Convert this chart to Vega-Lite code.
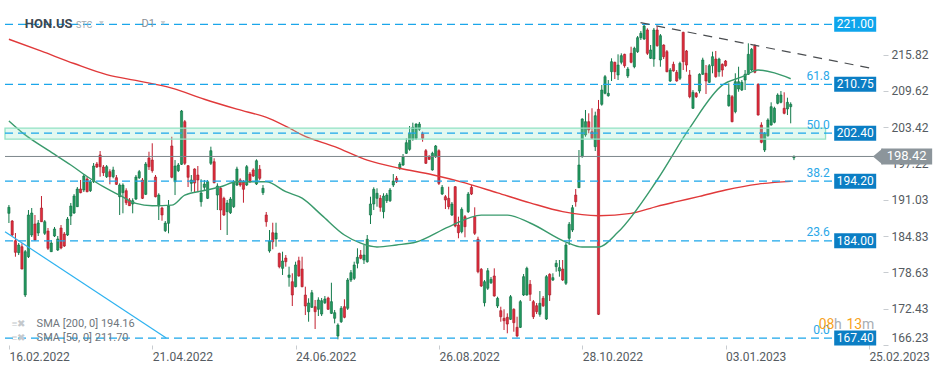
{
"$schema":"https://vega.github.io/schema/vega-lite/v6.json",
"width":883,"height":345,
"autosize":{"type":"none"},
"padding":{"left":0,"top":0,"right":66,"bottom":25},
"background":"#ffffff",
"config":{"view":{"stroke":null},"font":"Roboto","axis":{"labelFont":"Roboto","labelFontSize":12,"labelColor":"#555b61","tickColor":"#c8ccd0","domain":false,"grid":false,"title":null}},
"datasets":{
"candles":[
{"i":0,"o":188.71,"h":190.13,"l":187.05,"c":189.73},{"i":1,"o":187.39,"h":187.56,"l":184.83,"c":185.00},{"i":2,"o":184.03,"h":185.34,"l":181.29,"c":182.04},{"i":3,"o":181.98,"h":183.63,"l":181.58,"c":183.29},{"i":4,"o":183.00,"h":183.58,"l":179.14,"c":179.19},{"i":5,"o":174.75,"h":182.44,"l":174.41,"c":182.15},{"i":6,"o":181.29,"h":189.27,"l":181.07,"c":188.42},{"i":7,"o":185.00,"h":189.61,"l":184.66,"c":188.76},{"i":8,"o":186.88,"h":188.42,"l":184.03,"c":184.15},{"i":9,"o":185.34,"h":187.56,"l":184.83,"c":187.05},
{"i":10,"o":189.61,"h":191.66,"l":187.22,"c":187.27},{"i":11,"o":185.29,"h":187.56,"l":185.00,"c":187.27},{"i":12,"o":185.68,"h":186.20,"l":182.44,"c":182.73},{"i":13,"o":182.15,"h":184.15,"l":182.10,"c":183.63},{"i":14,"o":184.83,"h":186.37,"l":184.66,"c":186.03},{"i":15,"o":182.44,"h":184.83,"l":182.27,"c":184.32},{"i":16,"o":186.20,"h":186.71,"l":182.56,"c":182.78},{"i":17,"o":185.17,"h":185.51,"l":182.95,"c":183.12},{"i":18,"o":185.00,"h":188.08,"l":184.83,"c":187.73},{"i":19,"o":188.25,"h":190.47,"l":186.71,"c":189.95},
{"i":20,"o":188.76,"h":192.00,"l":188.59,"c":191.66},{"i":21,"o":189.84,"h":193.20,"l":189.78,"c":192.86},{"i":22,"o":192.86,"h":194.40,"l":192.13,"c":192.23},{"i":23,"o":192.69,"h":195.42,"l":192.35,"c":195.08},{"i":24,"o":194.57,"h":194.96,"l":192.30,"c":192.40},{"i":25,"o":192.57,"h":194.40,"l":192.35,"c":194.11},{"i":26,"o":194.11,"h":197.30,"l":193.88,"c":196.79},{"i":27,"o":197.13,"h":197.47,"l":196.45,"c":196.62},{"i":28,"o":198.67,"h":199.35,"l":194.96,"c":196.67},{"i":29,"o":196.62,"h":196.96,"l":195.08,"c":195.64},
{"i":30,"o":194.96,"h":196.96,"l":194.74,"c":196.67},{"i":31,"o":195.82,"h":196.23,"l":193.66,"c":194.96},{"i":32,"o":194.96,"h":196.67,"l":194.69,"c":196.11},{"i":33,"o":194.79,"h":195.25,"l":193.54,"c":193.66},{"i":34,"o":191.54,"h":193.83,"l":188.42,"c":193.54},{"i":35,"o":192.23,"h":193.83,"l":188.71,"c":193.54},{"i":36,"o":192.57,"h":192.98,"l":190.13,"c":190.52},{"i":37,"o":190.98,"h":191.32,"l":189.96,"c":190.01},{"i":38,"o":190.30,"h":191.27,"l":188.71,"c":190.86},{"i":39,"o":191.15,"h":195.25,"l":190.98,"c":194.91},
{"i":40,"o":194.79,"h":196.11,"l":194.57,"c":195.82},{"i":41,"o":194.40,"h":194.74,"l":191.15,"c":191.27},{"i":42,"o":191.95,"h":197.47,"l":191.83,"c":197.13},{"i":43,"o":198.16,"h":199.23,"l":196.11,"c":196.67},{"i":44,"o":197.81,"h":200.67,"l":195.64,"c":195.99},{"i":45,"o":194.91,"h":195.25,"l":191.44,"c":191.54},{"i":46,"o":189.96,"h":192.13,"l":187.56,"c":191.83},{"i":47,"o":189.61,"h":189.84,"l":187.44,"c":188.42},{"i":48,"o":185.74,"h":187.39,"l":185.51,"c":187.05},{"i":49,"o":187.00,"h":190.98,"l":185.29,"c":189.96},
{"i":50,"o":200.21,"h":201.79,"l":194.69,"c":194.86},{"i":51,"o":194.11,"h":197.81,"l":191.83,"c":196.79},{"i":52,"o":195.99,"h":197.30,"l":195.76,"c":196.96},{"i":53,"o":197.08,"h":206.36,"l":196.96,"c":206.19},{"i":54,"o":204.36,"h":204.65,"l":196.96,"c":197.25},{"i":55,"o":196.84,"h":196.96,"l":193.20,"c":194.86},{"i":56,"o":193.83,"h":195.25,"l":192.40,"c":194.40},{"i":57,"o":196.28,"h":196.40,"l":192.23,"c":193.88},{"i":58,"o":195.25,"h":196.79,"l":192.40,"c":194.40},{"i":59,"o":190.69,"h":194.52,"l":189.84,"c":192.18},
{"i":60,"o":193.15,"h":194.40,"l":192.69,"c":193.71},{"i":61,"o":191.27,"h":194.40,"l":191.15,"c":194.11},{"i":62,"o":197.25,"h":200.09,"l":196.96,"c":199.40},{"i":63,"o":197.52,"h":198.11,"l":193.83,"c":193.94},{"i":64,"o":191.83,"h":193.83,"l":189.27,"c":193.37},{"i":65,"o":192.98,"h":193.25,"l":185.85,"c":189.27},{"i":66,"o":191.27,"h":191.54,"l":188.25,"c":188.42},{"i":67,"o":188.98,"h":190.98,"l":185.00,"c":190.47},{"i":68,"o":188.81,"h":191.49,"l":188.59,"c":191.15},{"i":69,"o":189.84,"h":194.40,"l":189.61,"c":194.11},
{"i":70,"o":193.54,"h":196.67,"l":193.37,"c":196.28},{"i":71,"o":194.40,"h":194.69,"l":193.25,"c":193.54},{"i":72,"o":194.11,"h":194.40,"l":190.52,"c":192.81},{"i":73,"o":193.54,"h":196.96,"l":193.37,"c":196.67},{"i":74,"o":195.42,"h":195.76,"l":193.88,"c":194.11},{"i":75,"o":196.11,"h":196.40,"l":194.91,"c":195.08},{"i":76,"o":193.71,"h":197.93,"l":193.54,"c":197.69},{"i":77,"o":196.23,"h":196.96,"l":194.40,"c":194.69},{"i":78,"o":192.23,"h":193.54,"l":191.83,"c":192.98},{"i":79,"o":188.42,"h":188.93,"l":186.42,"c":187.27},
{"i":80,"o":182.27,"h":185.85,"l":181.98,"c":183.97},{"i":81,"o":185.39,"h":187.10,"l":182.56,"c":183.86},{"i":82,"o":184.32,"h":187.10,"l":183.00,"c":185.34},{"i":83,"o":181.87,"h":181.98,"l":179.31,"c":179.59},{"i":84,"o":179.31,"h":182.15,"l":178.17,"c":180.56},{"i":85,"o":181.07,"h":181.58,"l":179.59,"c":180.44},{"i":86,"o":177.77,"h":179.59,"l":176.17,"c":178.17},{"i":87,"o":177.02,"h":178.46,"l":172.87,"c":174.75},{"i":88,"o":176.17,"h":180.44,"l":176.07,"c":179.88},{"i":89,"o":180.61,"h":181.29,"l":177.88,"c":178.00},
{"i":90,"o":179.19,"h":181.29,"l":176.07,"c":176.17},{"i":91,"o":174.75,"h":176.17,"l":171.33,"c":172.87},{"i":92,"o":171.90,"h":174.19,"l":170.19,"c":173.38},{"i":93,"o":172.65,"h":175.61,"l":172.53,"c":175.14},{"i":94,"o":172.75,"h":173.90,"l":168.94,"c":171.90},{"i":95,"o":172.31,"h":174.36,"l":171.16,"c":173.90},{"i":96,"o":171.50,"h":174.24,"l":171.16,"c":173.78},{"i":97,"o":173.43,"h":174.58,"l":173.21,"c":174.07},{"i":98,"o":174.24,"h":174.46,"l":172.19,"c":172.31},{"i":99,"o":171.62,"h":176.85,"l":171.50,"c":173.61},
{"i":100,"o":170.77,"h":172.19,"l":169.91,"c":171.73},{"i":101,"o":167.75,"h":169.91,"l":167.18,"c":169.62},{"i":102,"o":170.19,"h":172.87,"l":169.97,"c":172.48},{"i":103,"o":172.75,"h":174.02,"l":170.77,"c":170.94},{"i":104,"o":172.48,"h":177.65,"l":172.19,"c":177.31},{"i":105,"o":177.31,"h":179.02,"l":176.97,"c":178.56},{"i":106,"o":177.60,"h":180.44,"l":177.31,"c":179.88},{"i":107,"o":180.17,"h":182.73,"l":179.31,"c":181.19},{"i":108,"o":181.58,"h":182.44,"l":180.85,"c":181.02},{"i":109,"o":180.73,"h":183.29,"l":180.05,"c":181.58},
{"i":110,"o":180.44,"h":185.00,"l":180.27,"c":184.27},{"i":111,"o":188.42,"h":191.54,"l":186.88,"c":190.30},{"i":112,"o":190.30,"h":193.15,"l":189.27,"c":192.81},{"i":113,"o":191.27,"h":192.98,"l":189.84,"c":192.13},{"i":114,"o":191.27,"h":191.83,"l":188.98,"c":189.73},{"i":115,"o":188.98,"h":192.13,"l":187.85,"c":191.66},{"i":116,"o":190.86,"h":192.18,"l":190.47,"c":191.83},{"i":117,"o":190.86,"h":193.03,"l":190.64,"c":192.69},{"i":118,"o":193.54,"h":195.42,"l":193.20,"c":194.23},{"i":119,"o":194.69,"h":195.08,"l":193.88,"c":194.11},
{"i":120,"o":196.40,"h":197.47,"l":196.11,"c":197.13},{"i":121,"o":196.96,"h":198.84,"l":196.79,"c":198.38},{"i":122,"o":198.96,"h":201.52,"l":198.84,"c":200.77},{"i":123,"o":199.64,"h":203.62,"l":199.40,"c":202.38},{"i":124,"o":201.35,"h":204.19,"l":201.11,"c":203.40},{"i":125,"o":201.52,"h":204.08,"l":201.23,"c":203.96},{"i":126,"o":203.06,"h":204.31,"l":202.77,"c":203.96},{"i":127,"o":202.26,"h":202.65,"l":200.94,"c":201.52},{"i":128,"o":199.40,"h":199.69,"l":197.13,"c":197.25},{"i":129,"o":198.38,"h":198.67,"l":197.81,"c":197.93},
{"i":130,"o":196.11,"h":199.23,"l":195.99,"c":198.96},{"i":131,"o":198.38,"h":200.38,"l":198.16,"c":200.21},{"i":132,"o":199.40,"h":199.64,"l":193.54,"c":193.83},{"i":133,"o":192.00,"h":193.54,"l":191.83,"c":193.15},{"i":134,"o":191.54,"h":191.83,"l":189.44,"c":190.98},{"i":135,"o":191.27,"h":193.25,"l":189.39,"c":189.84},{"i":136,"o":188.42,"h":190.64,"l":188.25,"c":190.30},{"i":137,"o":193.25,"h":193.37,"l":186.32,"c":186.54},{"i":138,"o":186.71,"h":188.13,"l":184.44,"c":185.39},{"i":139,"o":185.57,"h":189.73,"l":185.29,"c":189.39},
{"i":140,"o":188.13,"h":188.42,"l":184.61,"c":186.42},{"i":141,"o":188.98,"h":192.35,"l":188.76,"c":192.00},{"i":142,"o":193.15,"h":193.54,"l":191.83,"c":192.00},{"i":143,"o":188.13,"h":189.73,"l":185.00,"c":185.29},{"i":144,"o":184.27,"h":184.71,"l":178.46,"c":178.73},{"i":145,"o":179.14,"h":179.36,"l":176.12,"c":176.29},{"i":146,"o":173.43,"h":177.31,"l":172.80,"c":177.02},{"i":147,"o":175.90,"h":179.36,"l":175.61,"c":178.90},{"i":148,"o":176.85,"h":177.83,"l":176.63,"c":177.43},{"i":149,"o":178.00,"h":179.31,"l":174.46,"c":174.58},
{"i":150,"o":172.87,"h":174.46,"l":172.53,"c":174.19},{"i":151,"o":172.07,"h":172.75,"l":170.19,"c":171.04},{"i":152,"o":170.77,"h":172.31,"l":168.77,"c":170.36},{"i":153,"o":170.94,"h":171.62,"l":168.21,"c":169.79},{"i":154,"o":170.60,"h":174.75,"l":170.48,"c":174.46},{"i":155,"o":172.31,"h":172.48,"l":168.48,"c":170.02},{"i":156,"o":169.23,"h":171.04,"l":167.52,"c":167.75},{"i":157,"o":169.23,"h":173.90,"l":169.11,"c":173.61},{"i":158,"o":174.75,"h":178.34,"l":174.58,"c":177.88},{"i":159,"o":174.75,"h":179.59,"l":174.63,"c":179.31},
{"i":160,"o":176.58,"h":177.31,"l":173.73,"c":174.87},{"i":161,"o":173.61,"h":173.90,"l":170.65,"c":171.04},{"i":162,"o":172.92,"h":173.38,"l":171.50,"c":171.90},{"i":163,"o":171.45,"h":175.43,"l":171.04,"c":173.33},{"i":164,"o":174.19,"h":174.58,"l":172.70,"c":172.92},{"i":165,"o":170.65,"h":178.17,"l":170.48,"c":177.88},{"i":166,"o":178.29,"h":178.46,"l":173.73,"c":174.75},{"i":167,"o":177.31,"h":178.46,"l":177.14,"c":177.71},{"i":168,"o":179.59,"h":180.73,"l":178.73,"c":180.17},{"i":169,"o":178.85,"h":180.73,"l":177.88,"c":179.42},
{"i":170,"o":179.19,"h":180.73,"l":177.14,"c":177.31},{"i":171,"o":176.75,"h":183.63,"l":176.46,"c":183.29},{"i":172,"o":184.44,"h":187.22,"l":183.29,"c":186.83},{"i":173,"o":185.85,"h":190.13,"l":185.51,"c":189.66},{"i":174,"o":191.83,"h":192.86,"l":189.84,"c":190.69},{"i":175,"o":193.08,"h":199.52,"l":193.03,"c":196.96},{"i":176,"o":198.38,"h":204.94,"l":198.21,"c":204.82},{"i":177,"o":202.09,"h":206.36,"l":201.79,"c":204.36},{"i":178,"o":204.36,"h":205.79,"l":202.38,"c":202.94},{"i":179,"o":202.65,"h":206.65,"l":201.40,"c":201.52},
{"i":180,"o":200.09,"h":206.07,"l":199.35,"c":205.38},{"i":181,"o":206.48,"h":208.07,"l":171.33,"c":171.45},{"i":182,"o":207.33,"h":210.63,"l":207.09,"c":209.77},{"i":183,"o":209.21,"h":212.34,"l":209.04,"c":212.05},{"i":184,"o":208.80,"h":211.48,"l":208.63,"c":209.21},{"i":185,"o":212.90,"h":215.19,"l":211.31,"c":214.61},{"i":186,"o":214.51,"h":214.61,"l":211.65,"c":212.90},{"i":187,"o":212.34,"h":215.87,"l":211.48,"c":214.04},{"i":188,"o":214.51,"h":216.04,"l":214.16,"c":215.64},{"i":189,"o":215.87,"h":215.97,"l":213.58,"c":213.92},
{"i":190,"o":212.17,"h":213.70,"l":211.82,"c":213.36},{"i":191,"o":216.04,"h":217.17,"l":214.34,"c":214.51},{"i":192,"o":213.75,"h":217.17,"l":213.48,"c":216.90},{"i":193,"o":216.32,"h":219.00,"l":216.10,"c":218.71},{"i":194,"o":218.71,"h":219.85,"l":218.32,"c":219.46},{"i":195,"o":218.49,"h":221.00,"l":218.32,"c":220.71},{"i":196,"o":220.03,"h":220.32,"l":215.75,"c":216.04},{"i":197,"o":215.19,"h":217.46,"l":215.07,"c":216.61},{"i":198,"o":215.07,"h":220.37,"l":213.75,"c":220.03},{"i":199,"o":220.03,"h":220.59,"l":217.17,"c":217.34},
{"i":200,"o":214.90,"h":219.34,"l":213.75,"c":219.05},{"i":201,"o":217.46,"h":217.58,"l":215.07,"c":215.46},{"i":202,"o":216.32,"h":216.61,"l":212.80,"c":212.90},{"i":203,"o":211.31,"h":213.53,"l":211.14,"c":213.19},{"i":204,"o":214.16,"h":214.61,"l":212.90,"c":213.02},{"i":205,"o":212.80,"h":213.19,"l":211.19,"c":211.31},{"i":206,"o":211.77,"h":214.61,"l":211.48,"c":214.33},{"i":207,"o":219.63,"h":219.73,"l":213.19,"c":214.61},{"i":208,"o":216.44,"h":216.61,"l":212.90,"c":214.04},{"i":209,"o":212.34,"h":213.19,"l":208.36,"c":208.63},
{"i":210,"o":206.65,"h":209.77,"l":206.53,"c":209.38},{"i":211,"o":209.21,"h":209.43,"l":208.41,"c":208.63},{"i":212,"o":209.60,"h":212.63,"l":209.21,"c":212.46},{"i":213,"o":212.46,"h":215.29,"l":212.34,"c":214.90},{"i":214,"o":212.63,"h":214.04,"l":209.09,"c":211.31},{"i":215,"o":211.09,"h":214.21,"l":210.97,"c":213.92},{"i":216,"o":213.92,"h":216.32,"l":212.63,"c":215.46},{"i":217,"o":215.07,"h":216.44,"l":211.87,"c":212.05},{"i":218,"o":212.90,"h":215.29,"l":212.05,"c":215.07},{"i":219,"o":214.16,"h":214.33,"l":212.05,"c":213.19},
{"i":220,"o":214.73,"h":214.90,"l":213.75,"c":213.92},{"i":221,"o":207.09,"h":210.92,"l":206.92,"c":208.92},{"i":222,"o":208.63,"h":208.92,"l":204.26,"c":204.36},{"i":223,"o":206.07,"h":212.63,"l":205.79,"c":211.19},{"i":224,"o":209.94,"h":213.75,"l":209.48,"c":211.19},{"i":225,"o":209.77,"h":211.48,"l":209.60,"c":211.09},{"i":226,"o":211.48,"h":213.19,"l":209.77,"c":212.46},{"i":227,"o":212.46,"h":217.75,"l":212.34,"c":215.87},{"i":228,"o":213.19,"h":216.95,"l":213.02,"c":216.73},{"i":229,"o":217.34,"h":217.58,"l":212.63,"c":212.80},
{"i":230,"o":210.75,"h":210.92,"l":205.40,"c":205.50},{"i":231,"o":203.79,"h":204.26,"l":200.67,"c":200.84},{"i":232,"o":199.52,"h":202.60,"l":199.18,"c":202.38},{"i":233,"o":201.97,"h":204.94,"l":201.79,"c":204.65},{"i":234,"o":203.79,"h":207.67,"l":203.68,"c":206.92},{"i":235,"o":204.26,"h":206.92,"l":204.08,"c":206.65},{"i":236,"o":207.50,"h":209.21,"l":207.33,"c":208.92},{"i":237,"o":207.67,"h":209.60,"l":207.50,"c":208.92},{"i":238,"o":206.65,"h":209.38,"l":205.62,"c":205.79},{"i":239,"o":206.53,"h":208.46,"l":205.50,"c":207.67},
{"i":240,"o":206.92,"h":207.67,"l":204.08,"c":207.33},{"i":241,"o":198.20,"h":198.60,"l":197.80,"c":198.42}
],
"sma200":[
{"i":0,"v":218.44},{"i":10,"v":216.4},{"i":20,"v":214.3},{"i":30,"v":212.4},{"i":40,"v":211.3},{"i":50,"v":210.1},{"i":60,"v":208.2},{"i":70,"v":206.5},{"i":80,"v":204.9},{"i":86,"v":203.3},{"i":90,"v":202.1},{"i":100,"v":200.1},{"i":110,"v":197.8},{"i":120,"v":196.4},{"i":130,"v":195.3},{"i":140,"v":193.9},{"i":150,"v":192.2},{"i":160,"v":190.5},{"i":170,"v":189.0},{"i":181,"v":188.3},{"i":191,"v":188.7},{"i":199,"v":189.9},{"i":205,"v":190.7},{"i":212,"v":191.6},{"i":220,"v":192.7},{"i":230,"v":193.7},{"i":240,"v":194.16}
],
"sma50":[
{"i":0,"v":204.5},{"i":5,"v":202.1},{"i":12,"v":199.5},{"i":19,"v":196.96},{"i":24,"v":195.0},{"i":29,"v":193.25},{"i":34,"v":191.8},{"i":39,"v":190.4},{"i":44,"v":190.0},{"i":50,"v":190.1},{"i":54,"v":191.8},{"i":60,"v":192.6},{"i":65,"v":193.25},{"i":70,"v":194.1},{"i":79,"v":194.1},{"i":85,"v":192.4},{"i":90,"v":191.3},{"i":96,"v":188.4},{"i":103,"v":185.0},{"i":108,"v":183.6},{"i":113,"v":182.95},{"i":119,"v":183.3},{"i":125,"v":183.8},{"i":135,"v":186.4},{"i":145,"v":188.4},{"i":153,"v":188.4},{"i":160,"v":187.05},{"i":171,"v":183.8},{"i":176,"v":182.95},{"i":181,"v":182.95},{"i":187,"v":185.5},{"i":199,"v":194.4},{"i":209,"v":203.3},{"i":219,"v":210.6},{"i":225,"v":212.0},{"i":230,"v":213.2},{"i":235,"v":212.7},{"i":240,"v":211.7}
],
"levels":[
{"v":221.0,"lab":"221.00","fib":""},{"v":210.75,"lab":"210.75","fib":"61.8"},{"v":202.4,"lab":"202.40","fib":"50.0"},{"v":194.2,"lab":"194.20","fib":"38.2"},{"v":184.0,"lab":"184.00","fib":"23.6"},{"v":167.4,"lab":"167.40","fib":"0.0"}
]
},
"layer":[
{"data":{"name":"candles"},"mark":{"type":"rule","strokeWidth":1},
 "encoding":{
  "x":{"field":"i","type":"quantitative","scale":{"domain":[-1.2,266.8],"nice":false,"zero":false},
   "axis":{"values":[0,44,88,132,176,220,264],"labelAlign":"left","labelPadding":2,"tickSize":4,"labelOverlap":false,"labelFlush":false,
   "labelExpr":"datum.value==0?'16.02.2022':datum.value==44?'21.04.2022':datum.value==88?'24.06.2022':datum.value==132?'26.08.2022':datum.value==176?'28.10.2022':datum.value==220?'03.01.2023':'25.02.2023'"}},
  "y":{"field":"l","type":"quantitative","scale":{"domain":[166.21,225.15],"nice":false,"zero":false},
   "axis":{"orient":"right","values":[166.23,172.43,178.63,184.83,191.03,197.22,203.42,209.62,215.82],"format":".2f","tickSize":5,"labelPadding":3,"labelOverlap":false,"labelFlush":3}},
  "y2":{"field":"h"},
  "color":{"condition":{"test":"datum.c >= datum.o","value":"#137a4b"},"value":"#c21f2f"}
 }},
{"data":{"name":"candles"},"mark":{"type":"bar","size":2.2,"strokeWidth":0.6},
 "encoding":{
  "x":{"field":"i","type":"quantitative"},
  "y":{"field":"o","type":"quantitative"},
  "y2":{"field":"c"},
  "fill":{"condition":{"test":"datum.c >= datum.o","value":"#23995f"},"value":"#e12c3c"},
  "stroke":{"condition":{"test":"datum.c >= datum.o","value":"#0e6b42"},"value":"#a01c29"}
 }},
{"data":{"name":"sma200"},"mark":{"type":"line","color":"#e0393a","strokeWidth":1.4,"interpolate":"monotone"},
 "encoding":{"x":{"field":"i","type":"quantitative"},"y":{"field":"v","type":"quantitative"}}},
{"data":{"name":"sma50"},"mark":{"type":"line","color":"#399a6c","strokeWidth":1.4,"interpolate":"monotone"},
 "encoding":{"x":{"field":"i","type":"quantitative"},"y":{"field":"v","type":"quantitative"}}},
{"data":{"values":[{}]},"mark":{"type":"rect","fill":"#8fe6c4","fillOpacity":0.25,"stroke":"#93e2c4","strokeWidth":1.3},
 "encoding":{"x":{"datum":-1.2,"type":"quantitative"},"x2":{"datum":250.7},"y":{"datum":203.27,"type":"quantitative"},"y2":{"datum":201.39}}},
{"data":{"values":[{}]},"mark":{"type":"rule","color":"#7d868c","strokeWidth":1},
 "encoding":{"x":{"datum":-1.2,"type":"quantitative"},"x2":{"datum":266.5},"y":{"datum":198.42,"type":"quantitative"}}},
{"data":{"name":"levels"},"mark":{"type":"rule","color":"#1ba6ea","strokeWidth":1.2,"strokeDash":[8,5]},
 "encoding":{"x":{"datum":-1.2,"type":"quantitative"},"x2":{"datum":253.4},"y":{"field":"v","type":"quantitative"}}},
{"data":{"name":"levels"},"mark":{"type":"text","align":"right","baseline":"middle","dy":-8.5,"fontSize":12,"color":"#2aa8e8"},
 "encoding":{"x":{"datum":252,"type":"quantitative"},"y":{"field":"v","type":"quantitative"},"text":{"field":"fib"}}},
{"data":{"name":"levels"},"mark":{"type":"tick","orient":"vertical","thickness":42,"size":15,"opacity":1},
 "encoding":{"x":{"datum":259.8,"type":"quantitative"},"y":{"field":"v","type":"quantitative"},
  "color":{"condition":{"test":"datum.v == 221","value":"#0ea5ec"},"value":"#0b7ec4"}}},
{"data":{"name":"levels"},"mark":{"type":"text","align":"center","baseline":"middle","fontSize":12,"color":"#ffffff"},
 "encoding":{"x":{"datum":259.8,"type":"quantitative"},"y":{"field":"v","type":"quantitative"},"text":{"field":"lab"}}},
{"data":{"values":[{}]},"mark":{"type":"rule","color":"#4a4d50","strokeWidth":1.2,"strokeDash":[9,7]},
 "encoding":{"x":{"datum":193.9,"type":"quantitative"},"y":{"datum":221.27,"type":"quantitative"},"x2":{"datum":265.9},"y2":{"datum":213.36}}},
{"data":{"values":[{}]},"mark":{"type":"rule","color":"#2db2f0","strokeWidth":1.2},
 "encoding":{"x":{"datum":-1.2,"type":"quantitative"},"y":{"datum":185.56,"type":"quantitative"},"x2":{"datum":48.3},"y2":{"datum":167.4}}},
{"data":{"values":[{}]},"mark":{"type":"tick","orient":"vertical","thickness":51,"size":16,"color":"#8c959b","opacity":1},
 "encoding":{"x":{"datum":275.6,"type":"quantitative"},"y":{"datum":198.42,"type":"quantitative"}}},
{"data":{"values":[{}]},"mark":{"type":"point","shape":"M -1 0 L 0.2 -1 L 0.2 1 Z","size":256,"filled":true,"color":"#8c959b","opacity":1},
 "encoding":{"x":{"datum":267.7,"type":"quantitative"},"y":{"datum":198.42,"type":"quantitative"}}},
{"data":{"values":[{}]},"mark":{"type":"text","text":"198.42","align":"center","baseline":"middle","fontSize":13,"color":"#ffffff"},
 "encoding":{"x":{"datum":275.6,"type":"quantitative"},"y":{"datum":198.42,"type":"quantitative"}}},
{"data":{"values":[{}]},"mark":{"type":"text","text":"HON.US","align":"left","baseline":"middle","fontSize":13,"fontWeight":"bold","color":"#3d4852"},
 "encoding":{"x":{"datum":4.9,"type":"quantitative"},"y":{"datum":221.0,"type":"quantitative"}}},
{"data":{"values":[{}]},"mark":{"type":"text","text":"STC","align":"left","baseline":"middle","fontSize":9,"color":"#a0a8ae"},
 "encoding":{"x":{"datum":20.6,"type":"quantitative"},"y":{"datum":220.9,"type":"quantitative"}}},
{"data":{"values":[{}]},"mark":{"type":"text","text":"D1","align":"left","baseline":"middle","fontSize":11,"color":"#8a9096"},
 "encoding":{"x":{"datum":40.7,"type":"quantitative"},"y":{"datum":221.0,"type":"quantitative"}}},
{"data":{"values":[{}]},"mark":{"type":"point","shape":"triangle-down","size":22,"filled":true,"color":"#b4b9bd"},
 "encoding":{"x":{"datum":28.4,"type":"quantitative"},"y":{"datum":221.2,"type":"quantitative"}}},
{"data":{"values":[{}]},"mark":{"type":"point","shape":"triangle-down","size":22,"filled":true,"color":"#b4b9bd"},
 "encoding":{"x":{"datum":47.3,"type":"quantitative"},"y":{"datum":221.2,"type":"quantitative"}}},
{"data":{"values":[{}]},"mark":{"type":"text","text":"≡✖","align":"left","baseline":"middle","fontSize":10,"color":"#c4c8cc"},
 "encoding":{"x":{"datum":0.9,"type":"quantitative"},"y":{"datum":169.79,"type":"quantitative"}}},
{"data":{"values":[{}]},"mark":{"type":"text","text":"≡✖","align":"left","baseline":"middle","fontSize":10,"color":"#c4c8cc"},
 "encoding":{"x":{"datum":0.9,"type":"quantitative"},"y":{"datum":167.4,"type":"quantitative"}}},
{"data":{"values":[{}]},"mark":{"type":"text","text":"SMA [200,  0]  194.16","align":"left","baseline":"middle","fontSize":11,"color":"#6f767c"},
 "encoding":{"x":{"datum":8.5,"type":"quantitative"},"y":{"datum":169.79,"type":"quantitative"}}},
{"data":{"values":[{}]},"mark":{"type":"text","text":"SMA [50,  0]  211.70","align":"left","baseline":"middle","fontSize":11,"color":"#6f767c"},
 "encoding":{"x":{"datum":8.5,"type":"quantitative"},"y":{"datum":167.4,"type":"quantitative"}}},
{"data":{"values":[{}]},"mark":{"type":"text","text":"08","align":"left","baseline":"middle","fontSize":14,"color":"#f7a21b"},
 "encoding":{"x":{"datum":248.6,"type":"quantitative"},"y":{"datum":169.62,"type":"quantitative"}}},
{"data":{"values":[{}]},"mark":{"type":"text","text":"h","align":"left","baseline":"middle","fontSize":14,"color":"#a8aeb3"},
 "encoding":{"x":{"datum":253.3,"type":"quantitative"},"y":{"datum":169.62,"type":"quantitative"}}},
{"data":{"values":[{}]},"mark":{"type":"text","text":"13","align":"left","baseline":"middle","fontSize":14,"color":"#f7a21b"},
 "encoding":{"x":{"datum":257.1,"type":"quantitative"},"y":{"datum":169.62,"type":"quantitative"}}},
{"data":{"values":[{}]},"mark":{"type":"text","text":"m","align":"left","baseline":"middle","fontSize":14,"color":"#a8aeb3"},
 "encoding":{"x":{"datum":261.9,"type":"quantitative"},"y":{"datum":169.62,"type":"quantitative"}}}
]
}
